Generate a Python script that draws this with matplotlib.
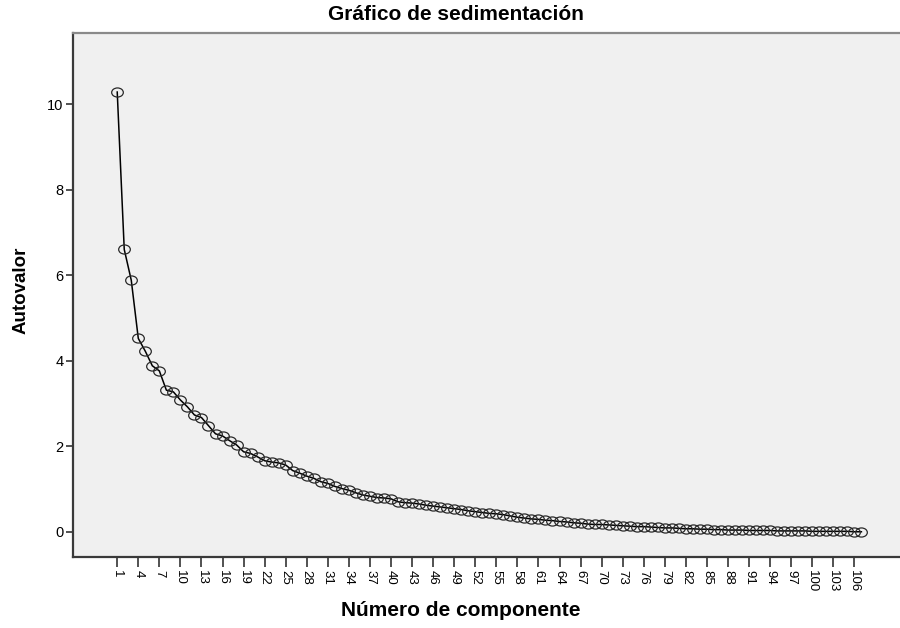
import numpy as np
import matplotlib
matplotlib.use('Agg')
import matplotlib.pyplot as plt
from matplotlib.path import Path
from matplotlib.transforms import Affine2D

# eigenvalues
componente = list(range(1, 108))
autovalor = [
    10.28, 6.60, 5.88, 4.52, 4.22, 3.88, 3.76, 3.31, 3.27, 3.08,
    2.92, 2.73, 2.67, 2.48, 2.29, 2.24, 2.13, 2.03, 1.87, 1.83,
    1.75, 1.66, 1.63, 1.61, 1.56, 1.43, 1.37, 1.30, 1.25, 1.17,
    1.13, 1.06, 1.01, 0.97, 0.91, 0.86, 0.83, 0.80, 0.79, 0.77,
    0.70, 0.68, 0.67, 0.65, 0.62, 0.60, 0.58, 0.56, 0.54, 0.52,
    0.49, 0.47, 0.45, 0.43, 0.42, 0.40, 0.37, 0.34, 0.32, 0.30,
    0.29, 0.27, 0.26, 0.24, 0.23, 0.21, 0.20, 0.18, 0.17, 0.17,
    0.16, 0.15, 0.14, 0.13, 0.12, 0.12, 0.11, 0.10, 0.09, 0.09,
    0.08, 0.07, 0.07, 0.06, 0.06, 0.05, 0.05, 0.04, 0.04, 0.04,
    0.03, 0.03, 0.03, 0.03, 0.02, 0.02, 0.02, 0.02, 0.02, 0.01,
    0.01, 0.01, 0.01, 0.01, 0.01, 0.00, 0.00,
]
xticks = list(range(1, 107, 3))
yticks = [0, 2, 4, 6, 8, 10]

plt.rcParams['font.family'] = ['Liberation Sans', 'DejaVu Sans']

fig = plt.figure(figsize=(9, 6.28), dpi=100)
ax = fig.add_axes([73 / 900, 1 - 557 / 628, 1 - 73 / 900, (557 - 33) / 628])
ax.set_facecolor('#f0f0f0')

# slightly flattened circle like the SPSS marker
ellipse = Path.unit_circle().transformed(Affine2D().scale(1.0, 0.78))
ax.plot(componente, autovalor, color='black', lw=1.1, zorder=2)
ax.plot(componente, autovalor, ls='none', marker=ellipse, ms=8.4,
        mfc='none', mec='#2a2a2a', mew=0.9, zorder=3)

ax.set_xlim(-5.3, 112.5)
ax.set_ylim(-0.59, 11.66)
ax.set_xticks(xticks)
ax.set_xticklabels([str(t) for t in xticks], rotation=270, fontsize=9.5)
ax.set_yticks(yticks)
ax.set_yticklabels([str(t) for t in yticks], fontsize=10.5)
ax.tick_params(axis='x', length=7, width=1.2, color='#333333', pad=2)
ax.tick_params(axis='y', length=5, width=1.2, color='#333333', pad=2)

for s in ['left', 'bottom']:
    ax.spines[s].set_color('#3a3a3a')
    ax.spines[s].set_linewidth(1.6)
ax.spines['top'].set_color('#8a8a8a')
ax.spines['top'].set_linewidth(1.6)
ax.spines['right'].set_visible(False)

fig.text(0.507, 1 - 14 / 628, 'Gráfico de sedimentación', ha='center', va='center',
         fontsize=15, fontweight='bold')
fig.text(0.512, 1 - 610 / 628, 'Número de componente', ha='center', va='center',
         fontsize=15, fontweight='bold')
fig.text(0.023, 1 - 290 / 628, 'Autovalor', ha='center', va='center', rotation=90,
         fontsize=13.5, fontweight='bold')

fig.savefig('out.png', dpi=100)
